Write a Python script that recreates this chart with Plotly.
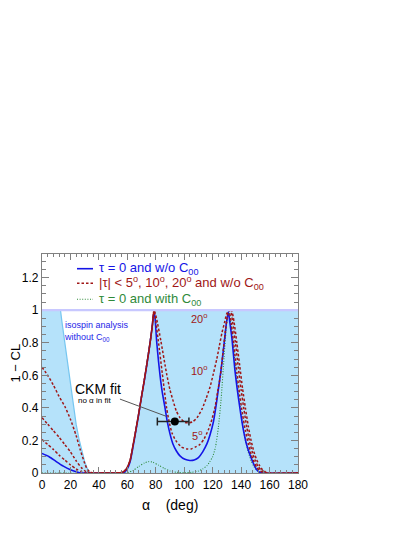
import plotly.graph_objects as go

# --- data -----------------------------------------------------------------
# isospin analysis without C00 (envelope of the light-blue region)
ISO_X = [0, 13, 14, 16, 18, 20, 22, 24, 26, 28, 30, 32, 34, 56, 58, 60, 62, 64,
         66, 68, 70, 72, 74, 76, 77.5, 78.8, 180]
ISO_Y = [1, 1, 0.93, 0.8, 0.66, 0.53, 0.41, 0.3, 0.21, 0.13, 0.07, 0.025, 0, 0,
         0.012, 0.035, 0.08, 0.17, 0.265, 0.365, 0.47, 0.575, 0.685, 0.8, 0.9, 1, 1]

# tau = 0 and w/o C00
BLUE_X = [0, 5, 10, 15, 20, 24, 27, 40, 56, 58, 60, 62, 64, 66, 68, 70, 72, 74,
          76, 77.5, 78.7, 79.5, 80.6, 82, 83, 84.5, 86.5, 88, 90, 92, 94.5, 97,
          100.5, 104, 107, 110, 113, 116, 118, 120.6, 122.5, 124.1, 125.7, 127.2,
          128.5, 129.5, 131, 132, 133.5, 135.8, 138.8, 141.5, 144, 146.3, 148.6,
          151, 153, 155, 180]
BLUE_Y = [0.12, 0.1, 0.07, 0.042, 0.02, 0.007, 0, 0, 0, 0.005, 0.025, 0.07, 0.16,
          0.26, 0.36, 0.47, 0.57, 0.68, 0.8, 0.9, 0.99, 0.95, 0.81, 0.68, 0.6, 0.5,
          0.4, 0.32, 0.24, 0.18, 0.135, 0.105, 0.084, 0.077, 0.08, 0.095, 0.13,
          0.18, 0.23, 0.317, 0.42, 0.52, 0.62, 0.73, 0.83, 0.91, 0.99, 0.93, 0.83,
          0.62, 0.42, 0.27, 0.17, 0.11, 0.06, 0.02, 0.005, 0, 0]

# |tau| < 5 deg
T5_X = [0, 4, 8, 12, 16, 20, 24, 28, 31, 45, 56, 58, 60, 62, 64, 66, 68, 70, 72,
        74, 76, 77.5, 78.8, 80, 81.8, 84.6, 87.6, 89.5, 91.4, 94, 98, 102, 105,
        108, 111, 114, 117, 119.5, 121.8, 123.5, 125.3, 127, 128.8, 130.3, 131.5,
        133, 135, 137, 139, 141, 143, 145, 147, 149, 151, 153, 155, 157, 180]
T5_Y = [0.205, 0.175, 0.145, 0.11, 0.08, 0.05, 0.025, 0.007, 0, 0, 0.003, 0.012,
        0.035, 0.08, 0.17, 0.265, 0.365, 0.47, 0.575, 0.685, 0.8, 0.9, 1, 0.93,
        0.81, 0.61, 0.4, 0.31, 0.246, 0.2, 0.16, 0.148, 0.148, 0.16, 0.175, 0.21,
        0.266, 0.33, 0.41, 0.5, 0.59, 0.72, 0.86, 0.96, 1, 0.92, 0.78, 0.62, 0.48,
        0.36, 0.26, 0.18, 0.115, 0.07, 0.035, 0.015, 0.005, 0, 0]

# |tau| < 10 deg
T10_X = [0, 4, 8, 12, 16, 20, 24, 28, 31, 33, 45, 56, 58, 60, 62, 64, 66, 68, 70,
         72, 74, 76, 77.5, 78.8, 80.5, 83.6, 87.6, 90, 92.3, 94.5, 97, 100.5, 103,
         106, 109, 112.4, 115.5, 118.2, 120.5, 122.9, 124.7, 126.5, 128.5, 130,
         132.5, 134, 136, 138, 140, 142, 144, 146, 148, 150, 152, 154, 156, 158, 180]
T10_Y = [0.34, 0.3, 0.26, 0.22, 0.175, 0.13, 0.075, 0.03, 0.008, 0, 0, 0.003,
         0.012, 0.035, 0.08, 0.17, 0.265, 0.365, 0.47, 0.575, 0.685, 0.8, 0.9, 1,
         0.95, 0.81, 0.61, 0.51, 0.44, 0.38, 0.34, 0.31, 0.308, 0.315, 0.34, 0.39,
         0.46, 0.53, 0.61, 0.7, 0.78, 0.86, 0.93, 0.98, 1, 0.93, 0.8, 0.65, 0.51,
         0.39, 0.28, 0.19, 0.125, 0.075, 0.04, 0.018, 0.006, 0, 0]

# |tau| < 20 deg
T20_X = [0, 4, 8, 12, 16, 20, 24, 27, 30, 32, 34, 36, 45, 56, 58, 60, 62, 64, 66,
         68, 70, 72, 74, 76, 77.5, 78.8, 79.6, 90, 105, 120, 132.8, 133.5, 135,
         137, 139, 141, 143, 145, 147, 149, 151, 153, 155, 157, 159, 180]
T20_Y = [0.65, 0.6, 0.54, 0.47, 0.41, 0.33, 0.23, 0.14, 0.06, 0.02, 0.005, 0, 0,
         0.003, 0.012, 0.035, 0.08, 0.17, 0.265, 0.365, 0.47, 0.575, 0.685, 0.8,
         0.9, 0.995, 1, 1, 1, 1, 1, 0.995, 0.93, 0.8, 0.66, 0.52, 0.4, 0.29, 0.2,
         0.13, 0.08, 0.045, 0.02, 0.007, 0, 0]

# tau = 0 and with C00
GREEN_X = [0, 58, 61, 64, 68, 72, 75, 78, 82, 86, 90, 95, 100, 105, 110, 113, 116,
           118, 120, 122, 124, 126, 128, 130, 131.3, 133, 135, 137, 139, 141, 143,
           145, 147, 149, 151, 153, 155, 180]
GREEN_Y = [0, 0, 0.005, 0.015, 0.04, 0.062, 0.07, 0.066, 0.048, 0.028, 0.012,
           0.004, 0.002, 0.004, 0.012, 0.025, 0.045, 0.07, 0.1, 0.16, 0.28, 0.46,
           0.71, 0.93, 0.99, 0.9, 0.74, 0.57, 0.43, 0.3, 0.2, 0.13, 0.075, 0.04,
           0.018, 0.006, 0, 0]

# CKM fit (no alpha in fit)
CKM_ALPHA = [93.4]
CKM_CL = [0.316]
CKM_ERR_PLUS = [9.9]
CKM_ERR_MINUS = [12.3]

TAU_LABELS = ["20<sup>o</sup>", "10<sup>o</sup>", "5<sup>o</sup>"]
TAU_LABEL_X = [110.9, 110.9, 109.2]
TAU_LABEL_Y = [0.952, 0.634, 0.231]

# --- styling ----------------------------------------------------------------
FONT = "Liberation Sans, Arial, Helvetica, sans-serif"
BLUE = "#1414e6"
RED = "#a01616"
GREEN = "#2f8a3a"
FILL = "#b5e2fa"
FRAME = "#808080"

# page body adds 8 px around the figure
OFF = 8
W, H = 407, 529
PLOT_W, PLOT_H = 256, 219
L, T = 34, 246
R, B = W - L - PLOT_W, H - T - PLOT_H


def px_x(px):
    # screen pixel -> paper x
    return (px - OFF - L) / PLOT_W


def px_y(py):
    # screen pixel -> paper y
    return (T + PLOT_H - (py - OFF)) / PLOT_H


SMOOTH = 0.6

fig = go.Figure()

fig.add_scatter(x=ISO_X, y=ISO_Y, mode="lines", fill="tozeroy", fillcolor=FILL,
                line=dict(color="#76c6f0", width=1.2), hoverinfo="skip")
fig.add_hline(y=1, line=dict(color="#c8c8ff", width=2.2))

fig.add_scatter(x=GREEN_X, y=GREEN_Y, mode="lines",
                line=dict(color=GREEN, width=1.1, dash="1px,1.6px",
                          shape="spline", smoothing=SMOOTH))
fig.add_scatter(x=BLUE_X, y=BLUE_Y, mode="lines",
                line=dict(color=BLUE, width=1.6, shape="spline", smoothing=SMOOTH))
for xs, ys in [(T5_X, T5_Y), (T10_X, T10_Y), (T20_X, T20_Y)]:
    fig.add_scatter(x=xs, y=ys, mode="lines",
                    line=dict(color=RED, width=1.5, dash="2.5px,2px",
                              shape="spline", smoothing=SMOOTH))

fig.add_scatter(x=CKM_ALPHA, y=CKM_CL, mode="markers",
                marker=dict(color="black", size=8),
                error_x=dict(type="data", array=CKM_ERR_PLUS,
                             arrayminus=CKM_ERR_MINUS, color="#222222",
                             thickness=1.5, width=4))

# pointer from the "CKM fit" label to the point
fig.add_shape(type="line", x0=54.8, y0=0.454, x1=87.4, y1=0.348,
              line=dict(color="#555555", width=1))

for txt, x, y in zip(TAU_LABELS, TAU_LABEL_X, TAU_LABEL_Y):
    fig.add_annotation(x=x, y=y, text=txt, showarrow=False, xanchor="center",
                       font=dict(family=FONT, size=11, color=RED))

fig.add_annotation(x=39.5, y=0.515, text="CKM fit", showarrow=False,
                   xanchor="center", font=dict(family=FONT, size=14, color="black"))
fig.add_annotation(x=37.2, y=0.443, text="no \u03b1 in fit", showarrow=False,
                   xanchor="center", font=dict(family=FONT, size=8, color="black"))
fig.add_annotation(x=14, y=0.955, xanchor="left", yanchor="top", align="left",
                   text="isospin analysis<br>without C<sub>00</sub>",
                   showarrow=False,
                   font=dict(family=FONT, size=9, color="#2424e8"))

# legend drawn by hand to match the compact original
legend = [
    ("\u03c4 = 0 and w/o C<sub>00</sub>", BLUE, "solid", 1.6, 268.7),
    ("|\u03c4| < 5<sup>o</sup>, 10<sup>o</sup>, 20<sup>o</sup> and w/o C<sub>00</sub>",
     RED, "2.5px,2px", 1.5, 283.3),
    ("\u03c4 = 0 and with C<sub>00</sub>", GREEN, "1px,1.6px", 1.1, 299.3),
]
for txt, col, dash, wid, py in legend:
    fig.add_shape(type="line", xref="paper", yref="paper",
                  x0=px_x(77), x1=px_x(93), y0=px_y(py), y1=px_y(py),
                  line=dict(color=col, width=wid, dash=dash))
    fig.add_annotation(xref="paper", yref="paper", x=px_x(97), y=px_y(py),
                       xanchor="left", yanchor="middle", text=txt,
                       showarrow=False, font=dict(family=FONT, size=13, color=col))

# axis titles
fig.add_annotation(xref="paper", yref="paper", x=px_x(170), y=px_y(505),
                   xanchor="center", yanchor="middle",
                   text="\u03b1    (deg)", showarrow=False,
                   font=dict(family=FONT, size=14, color="black"))
fig.add_annotation(xref="paper", yref="paper", x=px_x(15), y=0.5, textangle=-90,
                   xanchor="center", yanchor="middle",
                   text="1 \u2212 CL", showarrow=False,
                   font=dict(family=FONT, size=13, color="black"))

axis_common = dict(showline=True, linecolor=FRAME, linewidth=1.2, mirror="allticks",
                   ticks="inside", tickcolor=FRAME, showgrid=False, zeroline=False,
                   automargin=False,
                   tickfont=dict(family=FONT, size=12, color="black"))
fig.update_xaxes(range=[0, 180], dtick=20, ticklen=6,
                 minor=dict(dtick=4, ticks="inside", ticklen=3, tickcolor=FRAME),
                 **axis_common)
fig.update_yaxes(range=[0, 1.345], dtick=0.2, ticklen=7,
                 minor=dict(dtick=0.05, ticks="inside", ticklen=4, tickcolor=FRAME),
                 **axis_common)

fig.update_layout(width=W, height=H, margin=dict(l=L, r=R, t=T, b=B),
                  plot_bgcolor="white", paper_bgcolor="white", showlegend=False,
                  font=dict(family=FONT))

fig.write_html("out.html")
